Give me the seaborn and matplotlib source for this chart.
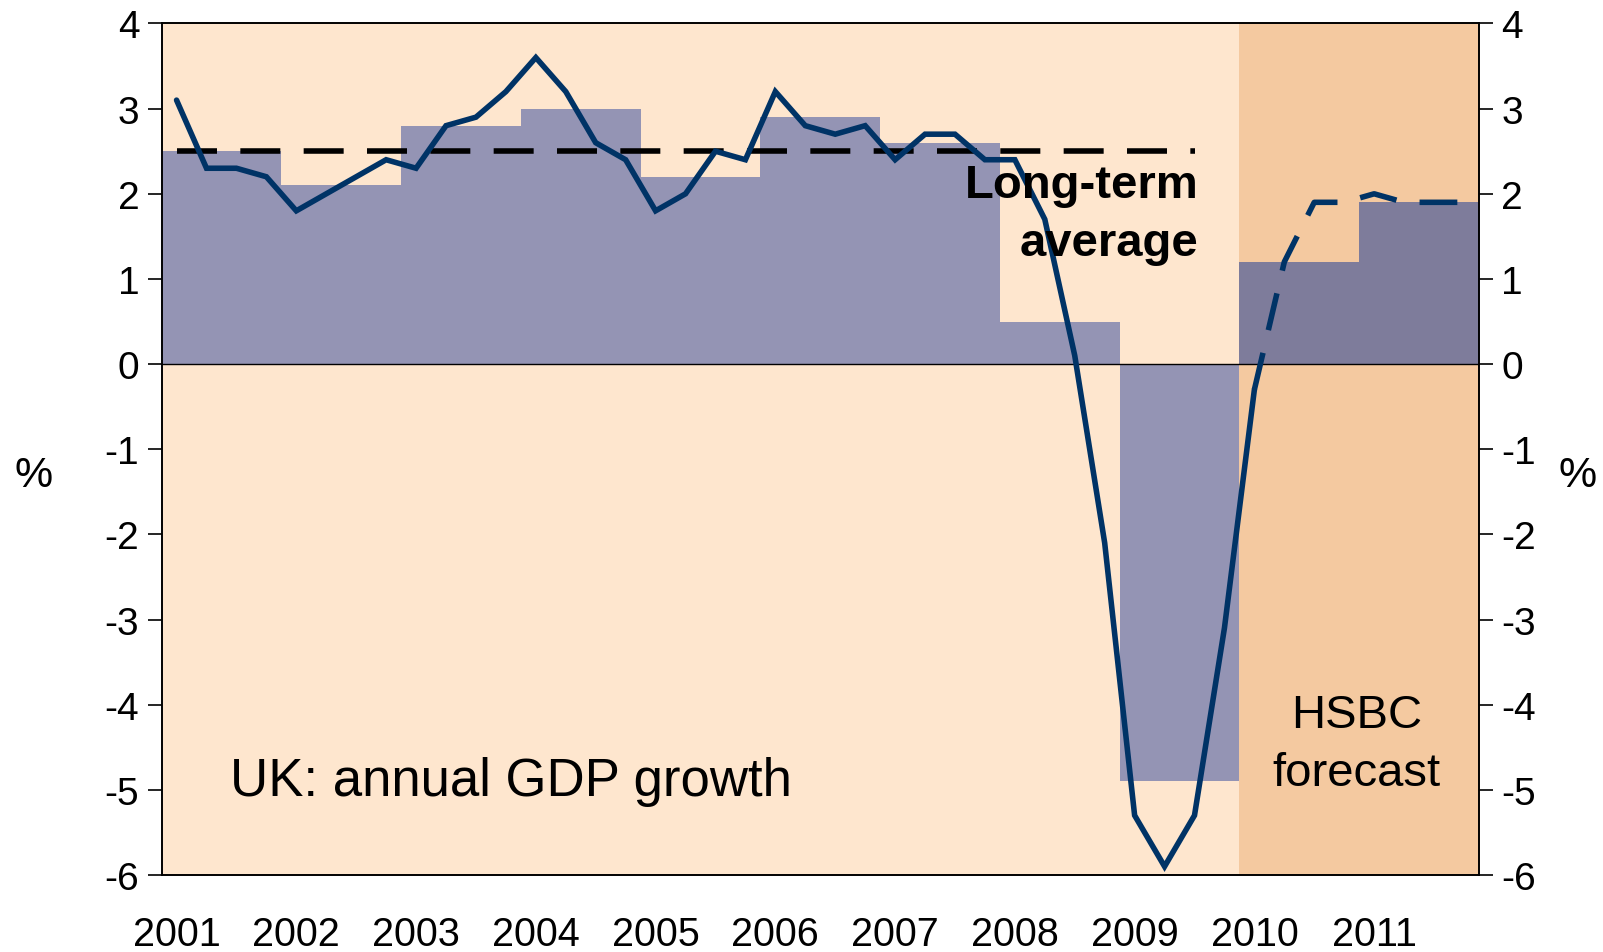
import numpy as np
import pandas as pd
import seaborn as sns
import matplotlib.pyplot as plt

# annual GDP growth (bars), one per calendar year
years = list(range(2001, 2012))
annual_growth = [2.5, 2.1, 2.8, 3.0, 2.2, 2.9, 2.6, 0.5, -4.9, 1.2, 1.9]
forecast_years = [2010, 2011]

# quarterly y/y growth, 2001 Q1 .. 2011 Q4
quarterly_growth = [3.1, 2.3, 2.3, 2.2,
                    1.8, 2.0, 2.2, 2.4,
                    2.3, 2.8, 2.9, 3.2,
                    3.6, 3.2, 2.6, 2.4,
                    1.8, 2.0, 2.5, 2.4,
                    3.2, 2.8, 2.7, 2.8,
                    2.4, 2.7, 2.7, 2.4,
                    2.4, 1.7, 0.1, -2.1,
                    -5.3, -5.9, -5.3, -3.1,
                    -0.3, 1.2, 1.9, 1.9,
                    2.0, 1.9, 1.9, 1.9]
n_actual = 37          # quarters up to and including 2010 Q1 drawn solid
long_term_avg = 2.5
avg_quarters = 35      # dashed average runs 2001 Q1 .. 2009 Q3

y_ticks = [-6, -5, -4, -3, -2, -1, 0, 1, 2, 3, 4]

# colours
bg_col = '#fee6ce'
fc_bg_col = '#f4c9a0'
bar_col = '#9494b4'
fc_bar_col = '#7e7c9b'
line_col = '#003366'

sns.set_style('white')
plt.rcParams['font.family'] = ['Liberation Sans', 'DejaVu Sans']
plt.rcParams['text.color'] = 'black'
plt.rcParams['xtick.color'] = 'black'
plt.rcParams['ytick.color'] = 'black'

bars = pd.DataFrame({'mid': [y + 0.5 for y in years], 'growth': annual_growth})
q = pd.DataFrame({'x': [years[0] + (i + 0.5) / 4 for i in range(len(quarterly_growth))],
                  'growth': quarterly_growth})
actual = q.iloc[:n_actual]
forecast = q.iloc[n_actual - 1:]
avg = pd.DataFrame({'x': q['x'].iloc[:avg_quarters], 'growth': long_term_avg})

fig = plt.figure(figsize=(16.03, 9.53), dpi=100)
ax = fig.add_axes([0.1008, 0.0808, 0.8218, 0.8935])
ax.set_facecolor(bg_col)

sns.barplot(data=bars, x='mid', y='growth', native_scale=True, width=1.0,
            color=bar_col, saturation=1, linewidth=0, ax=ax, zorder=1)
for p, yr in zip(ax.containers[0], years):
    if yr in forecast_years:
        p.set_facecolor(fc_bar_col)

ax.axvspan(forecast_years[0], forecast_years[-1] + 1, color=fc_bg_col, lw=0, zorder=0)
ax.axhline(0, color='black', linewidth=1, zorder=2)

sns.lineplot(data=avg, x='x', y='growth', ax=ax, color='black', zorder=3)
avg_line = ax.lines[-1]
sns.lineplot(data=actual, x='x', y='growth', ax=ax, color=line_col, zorder=4)
act_line = ax.lines[-1]
sns.lineplot(data=forecast, x='x', y='growth', ax=ax, color=line_col, zorder=4)
fc_line = ax.lines[-1]

avg_line.set_linewidth(4.0)
avg_line.set_dashes((7.2, 4.2))
act_line.set_linewidth(4.0)
act_line.set_solid_joinstyle('miter')
fc_line.set_linewidth(4.0)
fc_line.set_dashes((6.8, 4.2))

ax.set_xlim(years[0], years[-1] + 1)
ax.set_ylim(-6, 4)
ax.set_yticks(y_ticks)
ax.set_yticklabels([str(t) for t in y_ticks], fontsize=28)
ax.set_xticks([y + 0.125 for y in years])
ax.set_xticklabels([str(y) for y in years], fontsize=28.5)
ax.tick_params(axis='x', length=0, pad=29)
ax.tick_params(axis='y', direction='out', length=10, width=1.2, pad=6, left=True)
ax.set_xlabel('')
ax.set_ylabel('')

ax2 = ax.twinx()
ax2.set_ylim(-6, 4)
ax2.set_yticks(y_ticks)
ax2.set_yticklabels([str(t) for t in y_ticks], fontsize=28)
ax2.tick_params(axis='y', direction='out', length=10, width=1.2, pad=6, right=True)

for a in (ax, ax2):
    for s in a.spines.values():
        s.set_color('black')
        s.set_linewidth(1.2)

fig.text(0.021, 0.5, '%', fontsize=31, ha='center', va='center')
fig.text(0.984, 0.5, '%', fontsize=31, ha='center', va='center')

ax.text(2001.57, -4.9, 'UK: annual GDP growth', fontsize=38, ha='left', va='center', zorder=5)
ax.text(2010.98, -4.46, 'HSBC\nforecast', fontsize=34, ha='center', va='center',
        linespacing=1.4, zorder=5)
ax.text(2009.66, 1.76, 'Long-term\naverage', fontsize=34, fontweight='bold', ha='right',
        va='center', multialignment='right', linespacing=1.4, zorder=5)

fig.savefig('out.png', dpi=100)
